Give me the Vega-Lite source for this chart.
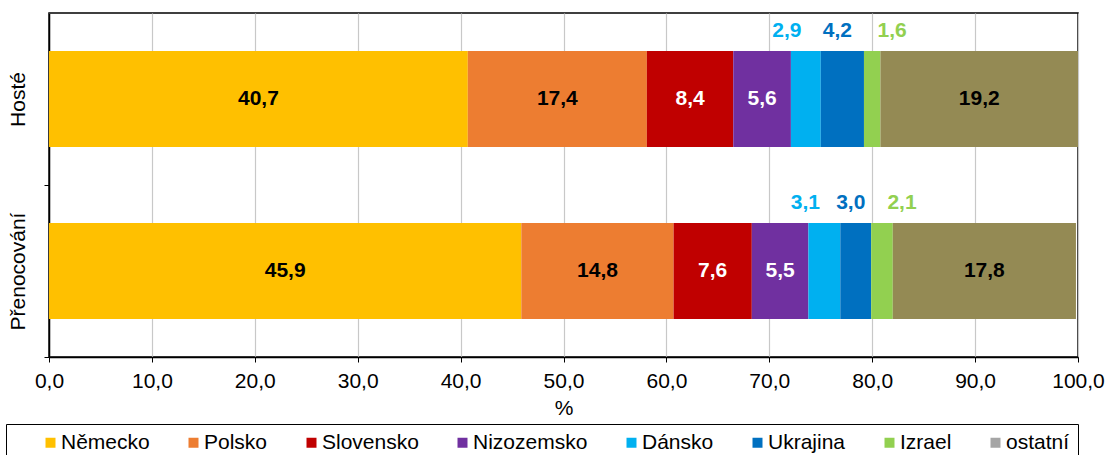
{
  "$schema": "https://vega.github.io/schema/vega-lite/v6.json",
  "autosize": {"type": "none"},
  "width": 1029,
  "height": 344,
  "padding": {"left": 49, "top": 13, "right": 28, "bottom": 98},
  "background": "white",
  "config": {
    "font": "Liberation Sans",
    "view": {"stroke": "#000", "strokeWidth": 1.5}
  },
  "data": {
    "values": [
      {"cat": "Hosté", "country": "Německo", "value": 40.7, "order": 1},
      {"cat": "Hosté", "country": "Polsko", "value": 17.4, "order": 2},
      {"cat": "Hosté", "country": "Slovensko", "value": 8.4, "order": 3},
      {"cat": "Hosté", "country": "Nizozemsko", "value": 5.6, "order": 4},
      {"cat": "Hosté", "country": "Dánsko", "value": 2.9, "order": 5},
      {"cat": "Hosté", "country": "Ukrajina", "value": 4.2, "order": 6},
      {"cat": "Hosté", "country": "Izrael", "value": 1.6, "order": 7},
      {"cat": "Hosté", "country": "ostatní", "value": 19.2, "order": 8},
      {"cat": "Přenocování", "country": "Německo", "value": 45.9, "order": 1},
      {"cat": "Přenocování", "country": "Polsko", "value": 14.8, "order": 2},
      {"cat": "Přenocování", "country": "Slovensko", "value": 7.6, "order": 3},
      {"cat": "Přenocování", "country": "Nizozemsko", "value": 5.5, "order": 4},
      {"cat": "Přenocování", "country": "Dánsko", "value": 3.1, "order": 5},
      {"cat": "Přenocování", "country": "Ukrajina", "value": 3.0, "order": 6},
      {"cat": "Přenocování", "country": "Izrael", "value": 2.1, "order": 7},
      {"cat": "Přenocování", "country": "ostatní", "value": 17.8, "order": 8}
    ]
  },
  "transform": [
    {"stack": "value", "groupby": ["cat"], "sort": [{"field": "order"}], "as": ["x0", "x1"]},
    {"calculate": "(datum.x0 + datum.x1) / 2", "as": "mid"},
    {"calculate": "replace(format(datum.value, '.1f'), '.', ',')", "as": "label"}
  ],
  "encoding": {
    "y": {
      "field": "cat", "type": "nominal",
      "sort": ["Hosté", "Přenocování"],
      "scale": {"paddingInner": 0.442, "paddingOuter": 0.221},
      "axis": {
        "title": null, "labelAngle": -90, "labelFontSize": 21, "labelColor": "#000",
        "labelPadding": 16, "tickOffset": 86, "labelOffset": -86, "tickSize": 5, "tickColor": "#000",
        "domainColor": "#000", "domainWidth": 1.5, "grid": false,
        "labelAlign": "center", "labelBaseline": "bottom"
      }
    }
  },
  "layer": [
    {
      "mark": {"type": "square", "opacity": 0},
      "encoding": {
        "x": {"field": "mid", "type": "quantitative"},
        "fill": {
          "field": "country", "type": "nominal",
          "scale": {
            "domain": ["Německo", "Polsko", "Slovensko", "Nizozemsko", "Dánsko", "Ukrajina", "Izrael", "ostatní"],
            "range": ["#ffc000", "#ed7d31", "#c00000", "#7030a0", "#00b0f0", "#0070c0", "#92d050", "#a5a5a5"]
          },
          "legend": {
            "title": null, "orient": "none", "legendX": -43, "legendY": 411,
            "direction": "horizontal", "columns": 8,
            "labelFontSize": 21, "labelColor": "#000", "labelOffset": 0,
            "labelExpr": "datum.label === 'ostatní' ? datum.label + '     ' : datum.label",
            "symbolType": "square", "symbolSize": 100, "symbolStrokeWidth": 0, "symbolOffset": 26,
            "symbolOpacity": 1,
            "columnPadding": 7, "padding": 8,
            "strokeColor": "#000", "fillColor": "#fff"
          }
        }
      }
    },
    {
      "mark": {"type": "bar"},
      "encoding": {
        "x": {
          "field": "x0", "type": "quantitative",
          "scale": {"domain": [0, 100], "nice": false},
          "axis": {
            "title": "%", "titleFontSize": 21, "titleFontWeight": "normal", "titleColor": "#000", "titlePadding": 6,
            "values": [0, 10, 20, 30, 40, 50, 60, 70, 80, 90, 100],
            "labelExpr": "replace(format(datum.value, '.1f'), '.', ',')",
            "labelFontSize": 21, "labelColor": "#000", "labelPadding": 8,
            "tickSize": 5, "tickColor": "#000", "domainColor": "#000", "domainWidth": 1.5,
            "grid": true, "gridColor": "#c8c8c8", "gridWidth": 1.2,
            "labelFlush": false
          }
        },
        "x2": {"field": "x1"},
        "color": {
          "field": "country", "type": "nominal",
          "scale": {
            "domain": ["Německo", "Polsko", "Slovensko", "Nizozemsko", "Dánsko", "Ukrajina", "Izrael", "ostatní"],
            "range": ["#ffc000", "#ed7d31", "#c00000", "#7030a0", "#00b0f0", "#0070c0", "#92d050", "#948a54"]
          },
          "legend": null
        }
      }
    },
    {
      "transform": [{"filter": "datum.order <= 4 || datum.order == 8"}],
      "mark": {"type": "text", "fontSize": 21, "fontWeight": "bold"},
      "encoding": {
        "x": {"field": "mid", "type": "quantitative"},
        "text": {"field": "label"},
        "color": {"condition": {"test": "datum.country === 'Slovensko' || datum.country === 'Nizozemsko'", "value": "#fff"}, "value": "#000"}
      }
    },
    {
      "transform": [{"filter": "datum.country === 'Dánsko'"}],
      "mark": {"type": "text", "fontSize": 21, "fontWeight": "bold", "color": "#00b0f0", "dy": -68, "dx": -19},
      "encoding": {"x": {"field": "mid", "type": "quantitative"}, "text": {"field": "label"}}
    },
    {
      "transform": [{"filter": "datum.country === 'Ukrajina'"}],
      "mark": {"type": "text", "fontSize": 21, "fontWeight": "bold", "color": "#0070c0", "dy": -68, "dx": -5},
      "encoding": {"x": {"field": "mid", "type": "quantitative"}, "text": {"field": "label"}}
    },
    {
      "transform": [{"filter": "datum.country === 'Izrael'"}],
      "mark": {"type": "text", "fontSize": 21, "fontWeight": "bold", "color": "#92d050", "dy": -68, "dx": 20},
      "encoding": {"x": {"field": "mid", "type": "quantitative"}, "text": {"field": "label"}}
    }
  ]
}
